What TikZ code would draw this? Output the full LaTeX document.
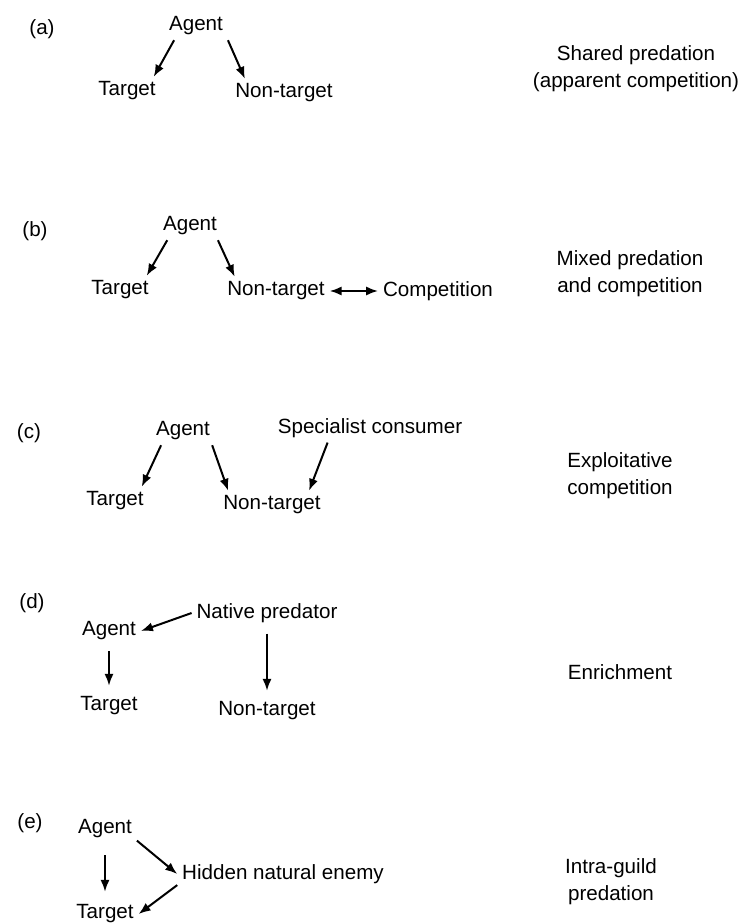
\documentclass[tikz,border=0pt]{standalone}
\usepackage{fontspec}
\setmainfont{Liberation Sans}
\usetikzlibrary{arrows.meta}
\tikzset{capt/.style={align=center},
  vshort/.style={shorten <=3pt,shorten >=3pt}}

\begin{document}
\begin{tikzpicture}[x=0.5pt,y=-0.5pt,>={Latex[length=6pt,width=4.6pt]},line width=1pt,
  font={\fontsize{10.3}{13.5}\selectfont},every node/.style={inner sep=2pt}]
\useasboundingbox (0,0) rectangle (742,924);
% --- (a) shared predation
\node (la) at (42,29) {(a)};
\node (agA) at (196,26) {Agent};
\node (tgA) at (127,91) {Target};
\node (ntA) at (284,93) {Non-target};
\draw[->] (agA.213) -- (tgA.28);
\draw[->] (agA.336) -- (ntA.160);
\node[capt] (rA) at (636,69) {Shared predation\\(apparent competition)};
% --- (b) mixed
\node (lb) at (35,231) {(b)};
\node (agB) at (190,226) {Agent};
\node (tgB) at (120,290) {Target};
\node (ntB) at (276,291) {Non-target};
\node (cpB) at (438,291) {Competition};
\draw[->] (agB.212) -- (tgB.28);
\draw[->] (agB.333) -- (ntB.161);
\draw[<->] (ntB) -- (cpB);
\node[capt] (rB) at (630,274) {Mixed predation\\and competition};
% --- (c) exploitative
\node (lc) at (29,433) {(c)};
\node (agC) at (183,431) {Agent};
\node (scC) at (370,428) {Specialist consumer};
\node (tgC) at (115,501) {Target};
\node (ntC) at (272,505) {Non-target};
\draw[->] (agC.213) -- (tgC.28);
\draw[->] (agC.334) -- (ntC.162);
\draw[->] (scC.199) -- (ntC.21);
\node[capt] (rC) at (620,476) {Exploitative\\competition};
% --- (d) enrichment
\node (ld) at (32,603) {(d)};
\node (nd) at (267,613) {Native predator};
\node (agD) at (109,631) {Agent};
\node (tgD) at (109,706) {Target};
\node (ntD) at (267,711) {Non-target};
\draw[->] (nd.west) -- (agD.east);
\draw[->,vshort] (agD) -- (tgD);
\draw[->,vshort] (nd) -- (ntD);
\node (rD) at (620,672) {Enrichment};
% --- (e) intra-guild
\node (le) at (30,823) {(e)};
\node (agE) at (105,829) {Agent};
\node (hn) at (283,874) {Hidden natural enemy};
\node (tgE) at (105,914) {Target};
\draw[->,shorten <=6pt,shorten >=4pt] (agE) -- (tgE);
\draw[->] (agE.-20) -- (hn.west);
\draw[->] (hn.186) -- (tgE.east);
\node[capt] (rE) at (611,882) {Intra-guild\\predation};
\end{tikzpicture}
\end{document}
